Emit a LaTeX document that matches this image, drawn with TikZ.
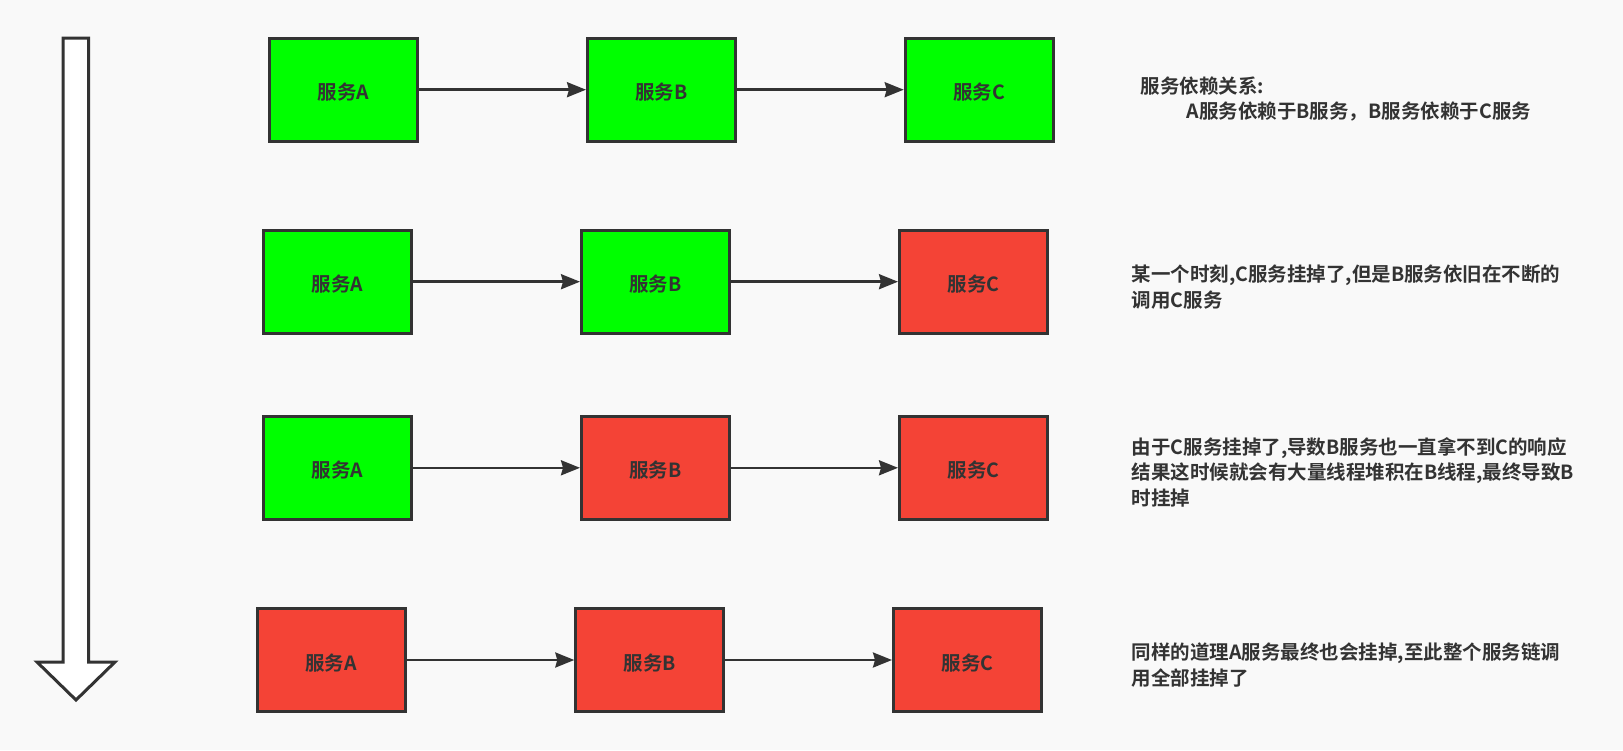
\documentclass[tikz,border=0pt]{standalone}
\usepackage{fontspec}
\setmainfont{Noto Sans CJK SC}[BoldFont={Noto Sans CJK SC Bold}]
\usetikzlibrary{arrows.meta}
\definecolor{bgcol}{HTML}{F9F9F9}
\definecolor{ink}{HTML}{333333}
\definecolor{okgreen}{HTML}{00FF00}
\definecolor{failred}{HTML}{F44336}
\tikzset{
  svc/.style={draw=ink, line width=3pt, minimum width=148pt, minimum height=103pt,
    inner sep=0pt, text=ink, text height=20pt, text depth=0pt,
    font=\fontsize{19.5pt}{23pt}\selectfont\bfseries},
  up/.style={svc, fill=okgreen},
  down/.style={svc, fill=failred},
  link/.style={draw=ink, line width=2.5pt, -{Stealth[length=19pt,width=15pt,inset=2pt]}},
  note/.style={anchor=west, align=left, inner sep=0pt, text=ink,
    font=\fontsize{19.5pt}{25.5pt}\selectfont\bfseries},
}
\begin{document}
\begin{tikzpicture}[x=1pt,y=-1pt]
\fill[bgcol] (0,0) rectangle (1623,750);
\useasboundingbox (0,0) rectangle (1623,750);

% time arrow
\draw[ink, fill=white, line width=3pt, miter limit=10]
  (63,38) -- (88.5,38) -- (88.5,662) -- (115,662) -- (76,700) -- (37,662) -- (63,662) -- cycle;

% row 1
\node[up] (a1) at (343.3,89.7) {服务A};
\node[up] (b1) at (661.5,89.7) {服务B};
\node[up] (c1) at (979.2,89.7) {服务C};
\draw[link] (a1) -- (b1);
\draw[link] (b1) -- (c1);
\node[note] (t1) at (1140.5,99) {服务依赖关系:\\\hspace*{46pt}A服务依赖于B服务，B服务依赖于C服务};

% row 2
\node[up] (a2) at (337.5,281.7) {服务A};
\node[up] (b2) at (655.5,281.7) {服务B};
\node[down] (c2) at (973.5,281.7) {服务C};
\draw[link] (a2) -- (b2);
\draw[link] (b2) -- (c2);
\node[note] (t2) at (1131.5,287) {某一个时刻,C服务挂掉了,但是B服务依旧在不断的\\调用C服务};

% row 3
\node[up] (a3) at (337.5,467.8) {服务A};
\node[down] (b3) at (655.5,467.8) {服务B};
\node[down] (c3) at (973.5,467.8) {服务C};
\draw[link] (a3) -- (b3);
\draw[link] (b3) -- (c3);
\node[note] (t3) at (1131.5,472) {由于C服务挂掉了,导数B服务也一直拿不到C的响应\\结果这时候就会有大量线程堆积在B线程,最终导致B\\时挂掉};

% row 4
\node[down] (a4) at (331.2,660) {服务A};
\node[down] (b4) at (649.8,660) {服务B};
\node[down] (c4) at (967.5,660) {服务C};
\draw[link] (a4) -- (b4);
\draw[link] (b4) -- (c4);
\node[note] (t4) at (1131.5,665) {同样的道理A服务最终也会挂掉,至此整个服务链调\\用全部挂掉了};
\end{tikzpicture}
\end{document}
